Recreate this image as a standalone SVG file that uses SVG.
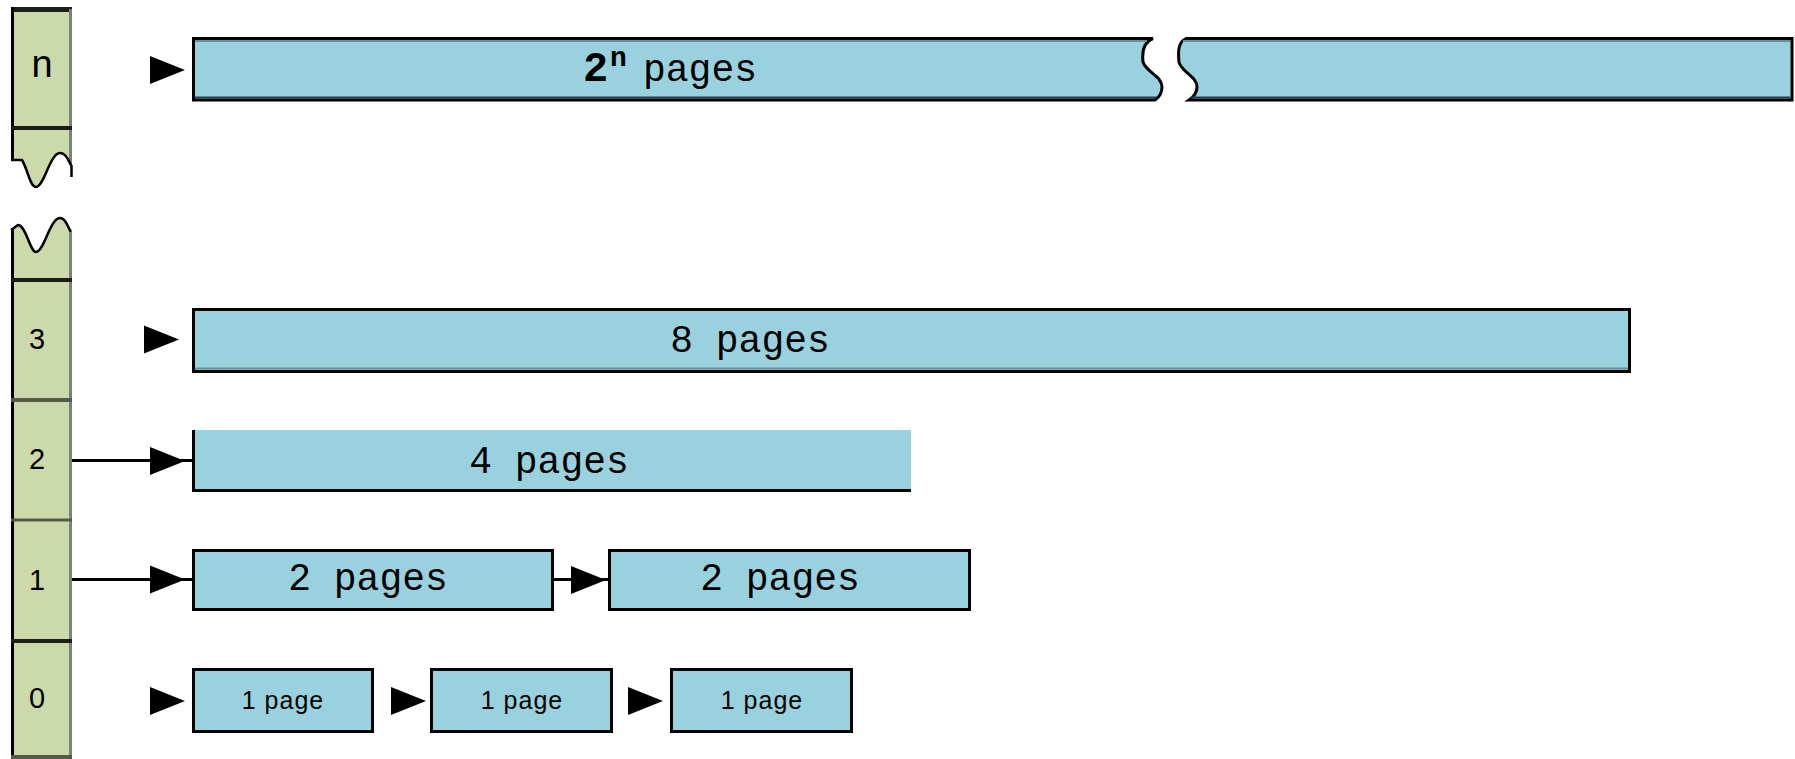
<svg xmlns="http://www.w3.org/2000/svg" xmlns:xlink="http://www.w3.org/1999/xlink" width="1795" height="759" viewBox="0 0 1795 759">
<style>
.col{fill:#ccdaab;stroke:none}
.box{fill:#99d2de;stroke:#000;stroke-width:3}
.wave{fill:none;stroke:#000;stroke-width:2.5}
.div{stroke:#1c1f18;stroke-width:4}
.lb{stroke:#000;stroke-width:3}
.rb{stroke:#7d7f78;stroke-width:3}
.num{font-family:"Liberation Sans",Arial,sans-serif;font-size:29px;fill:#000;text-anchor:middle}
.big{font-family:"Liberation Mono","Courier New",monospace;font-size:38px;fill:#000;text-anchor:middle}
.small{font-family:"Liberation Sans",Arial,sans-serif;font-size:25px;letter-spacing:1px;fill:#000;text-anchor:middle}
.ln{stroke:#000;stroke-width:3;fill:none}
.bevt{stroke:#5e939c;stroke-width:2}
.bevb{stroke:#263e46;stroke-width:2}
.mono{font-family:"Liberation Mono","Courier New",monospace;fill:#000}
</style>
<defs>
<polygon id="ah" points="0,-14 0,14 35,0" fill="#000"/>
</defs>
<rect width="1795" height="759" fill="#fff"/>

<g id="column">
  <path class="col" d="M12,8 H71 V165 C68,160 66,153 60,153 C50,153 44,187 36,187 C30,187 28,170 22,160 L12,160 Z"/>
  <path class="col" d="M12,230 L18,225 C26,225 30,252 36,252 C44,252 50,218 60,218 C66,218 68,228 71,232 V759 H12 Z"/>
  <line class="div" x1="11" y1="9.5" x2="72" y2="9.5" style="stroke-width:5"/>
  <line class="lb" x1="12.5" y1="7" x2="12.5" y2="161"/>
  <line class="rb" x1="70.5" y1="9" x2="70.5" y2="165"/>
  <line class="lb" x1="71.5" y1="165" x2="71.5" y2="177" style="stroke-width:2.5"/>
  <path class="wave" d="M11,160 L22,160 C28,170 30,187 36,187 C44,187 50,153 60,153 C66,153 68,160 71,165"/>
  <path class="wave" d="M11,230 L18,225 C26,225 30,252 36,252 C44,252 50,218 60,218 C66,218 68,228 71,232"/>
  <line class="lb" x1="12.5" y1="229" x2="12.5" y2="759"/>
  <line class="rb" x1="70.5" y1="232" x2="70.5" y2="759"/>
  <line class="div" x1="11" y1="128" x2="72" y2="128"/>
  <line class="div" x1="11" y1="280" x2="72" y2="280"/>
  <line class="div" x1="11" y1="400" x2="72" y2="400" style="stroke:#545a48"/>
  <line class="div" x1="11" y1="520" x2="72" y2="520" style="stroke:#545a48;stroke-width:3"/>
  <line class="div" x1="11" y1="641" x2="72" y2="641"/>
  <line class="div" x1="11" y1="757" x2="72" y2="757" style="stroke:#545a48"/>
  <text x="42" y="77" style="font-family:'Liberation Sans',Arial,sans-serif;font-size:38px;text-anchor:middle">n</text>
  <text class="num" x="37" y="349">3</text>
  <text class="num" x="37" y="469">2</text>
  <text class="num" x="37" y="590">1</text>
  <text class="num" x="37" y="708">0</text>
</g>

<g id="connectors">
  <line class="ln" x1="72" y1="460.5" x2="192" y2="460.5"/>
  <line class="ln" x1="72" y1="579.5" x2="192" y2="579.5"/>
  <line class="ln" x1="553" y1="579.5" x2="609" y2="579.5"/>
  <use xlink:href="#ah" href="#ah" x="150" y="70"/>
  <use xlink:href="#ah" href="#ah" x="144" y="339.5"/>
  <use xlink:href="#ah" href="#ah" x="150" y="461"/>
  <use xlink:href="#ah" href="#ah" x="150" y="579.5"/>
  <use xlink:href="#ah" href="#ah" x="571" y="580"/>
  <use xlink:href="#ah" href="#ah" x="150" y="701"/>
  <use xlink:href="#ah" href="#ah" x="391" y="701"/>
  <use xlink:href="#ah" href="#ah" x="628" y="701"/>
</g>

<g id="level-n">
  <path class="box" d="M193.5,38.5 H1153 C1143,42 1142,52 1143,62 C1146,72 1162,76 1162,87 C1162,94 1158,98 1155,100 H193.5 Z"/>
  <path class="box" d="M1186,38.5 H1792 V100 H1189 C1192,98 1197,94 1197,87 C1197,76 1181,72 1179,62 C1178,52 1178,42 1186,38.5 Z"/>
  <line class="bevt" x1="195" y1="41" x2="1147" y2="41"/>
  <line class="bevt" x1="1183" y1="41" x2="1790" y2="41"/>
  <line class="bevb" x1="195" y1="97.5" x2="1156" y2="97.5"/>
  <line class="bevb" x1="1191" y1="97.5" x2="1790" y2="97.5"/>
  <text class="mono" x="583" y="81" style="font-size:42px;font-weight:bold">2</text>
  <text class="mono" x="610" y="66" style="font-size:28px;font-weight:bold">n</text>
  <text class="mono" x="643" y="81" style="font-size:38px">pages</text>
</g>

<g id="level-3">
  <rect class="box" x="193.5" y="309.5" width="1436" height="62"/>
  <line class="bevb" x1="195" y1="368.5" x2="1628" y2="368.5" style="stroke:#5e939c"/>
  <text class="big" x="750" y="352">8 pages</text>
</g>

<g id="level-2">
  <rect x="192" y="430" width="719" height="61" fill="#99d2de"/>
  <line class="lb" x1="193.5" y1="430" x2="193.5" y2="492"/>
  <line class="lb" x1="192" y1="490.5" x2="911" y2="490.5"/>
  <text class="big" x="549" y="473">4 pages</text>
</g>

<g id="level-1">
  <g id="l1a">
    <rect class="box" x="193.5" y="550.5" width="359" height="59"/>
    <text class="big" x="368" y="590">2 pages</text>
  </g>
  <g id="l1b">
    <rect class="box" x="609.5" y="550.5" width="360" height="59"/>
    <text class="big" x="780" y="590">2 pages</text>
  </g>
</g>

<g id="level-0">
  <g id="l0a">
    <rect class="box" x="193.5" y="669.5" width="179" height="62"/>
    <text class="small" x="283" y="709">1 page</text>
  </g>
  <g id="l0b">
    <rect class="box" x="431.5" y="669.5" width="180" height="62"/>
    <text class="small" x="522" y="709">1 page</text>
  </g>
  <g id="l0c">
    <rect class="box" x="671.5" y="669.5" width="180" height="62"/>
    <text class="small" x="762" y="709">1 page</text>
  </g>
</g>
</svg>
